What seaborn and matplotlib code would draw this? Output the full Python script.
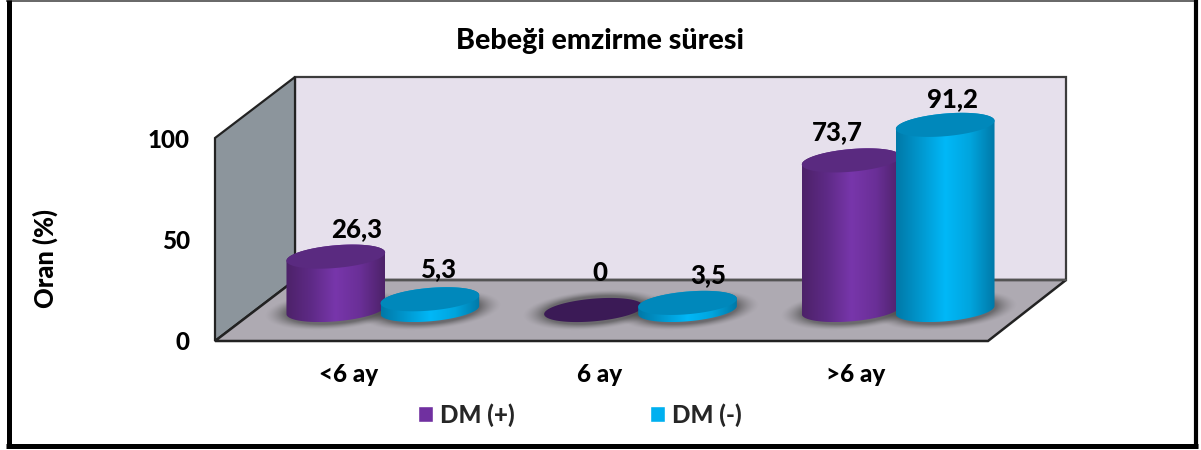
"""Bebegi emzirme suresi: 3D look cylinder chart on top of a seaborn barplot."""

import numpy as np
import pandas as pd
import matplotlib
matplotlib.use("Agg")
import matplotlib.pyplot as plt
from matplotlib.patches import Polygon
from matplotlib.colors import LinearSegmentedColormap
from matplotlib.transforms import Affine2D
import seaborn as sns

categories = ["<6 ay", "6 ay", ">6 ay"]
groups = ["DM (+)", "DM (-)"]
dm_pos = [26.3, 0, 73.7]
dm_neg = [5.3, 3.5, 91.2]
y_ticks = [0, 50, 100]
title = "Bebeği emzirme süresi"
y_label = "Oran (%)"

W, H = 1201, 450
FONT = "Lato"
WEIGHT = 900
DEPTH_X, DEPTH_Y = 39, 31  # cylinders stand mid floor
TILT = np.deg2rad(5)

sns.set_theme(style="white")
plt.rcParams["font.family"] = [FONT, "DejaVu Sans"]
plt.rcParams["font.weight"] = WEIGHT

fig = plt.figure(figsize=(W / 100, H / 100), dpi=100, facecolor="white")

# overlay in image pixels, for the walls and the shaded cylinders
ov = fig.add_axes([0, 0, 1, 1], zorder=1)
ov.set_xlim(0, W)
ov.set_ylim(H, 0)
ov.axis("off")
ov.set_autoscale_on(False)

ax = fig.add_axes(
    [215 / W, (H - 341) / H, (988 - 215) / W, (341 - 138) / H], zorder=2
)
ax.patch.set_alpha(0)

df = pd.DataFrame({
    "cat": categories * 2,
    "group": [groups[0]] * 3 + [groups[1]] * 3,
    "value": dm_pos + dm_neg,
})
sns.barplot(
    data=df, x="cat", y="value", hue="group", hue_order=groups, order=categories,
    palette=["#7030a0", "#00b0f0"], width=0.73, ax=ax, saturation=1,
)
ax.set_xlim(-0.5, 2.5)
ax.set_ylim(0, 100)
ax.set_yticks(y_ticks)
ax.set_xlabel("")
ax.set_ylabel(y_label, fontsize=18.4, fontweight=WEIGHT, color="black")
ax.yaxis.set_label_coords((58 - 215) / 773, (341 - 258) / 203)
ax.tick_params(axis="y", length=0, pad=18, labelsize=17.5, labelcolor="black")
ax.tick_params(axis="x", length=0, pad=15.5, labelsize=17.5, labelcolor="black")
for lab, dx in zip(ax.get_xticklabels(), [5, -2, -4]):
    lab.set_transform(lab.get_transform() + Affine2D().translate(dx, 0))
sns.despine(ax=ax, left=True, bottom=True)

sns.move_legend(
    ax, "center", bbox_to_anchor=(580 / W, 1 - 415 / H), bbox_transform=fig.transFigure,
    ncol=2, title=None, frameon=False, fontsize=17.4, handlelength=0.62,
    handleheight=0.62, handletextpad=0.3, columnspacing=5.6,
)

# walls and floor
ov.add_patch(Polygon([(295, 77), (1066, 77), (1066, 280), (295, 280)],
                     fc="#e6e0ec", ec="#3c3c3c", lw=1.6))
ov.add_patch(Polygon([(215, 138), (295, 77), (295, 280), (215, 341)],
                     fc="#8c959c", ec="#222222", lw=1.6))
ov.add_patch(Polygon([(215, 341), (295, 280), (1066, 280), (988, 341)],
                     fc="#aeaab2", ec="#222222", lw=1.8))
ov.plot([295, 1066], [280, 280], color="#555555", lw=1.4)

# outer frame, heavier on three sides
ov.plot([6, 1198], [1, 1], color="#666666", lw=1.4, solid_capstyle="butt")
ov.plot([8.5, 8.5], [0, 448], color="black", lw=3.6, solid_capstyle="butt")
ov.plot([1196, 1196], [0, 448], color="black", lw=3.0, solid_capstyle="butt")
ov.plot([6, 1198], [445.5, 445.5], color="black", lw=3.6, solid_capstyle="butt")


def ellipse_pts(cx, cy, a, b=11.3, n=181):
    t = np.linspace(0, 2 * np.pi, n)
    xs = cx + a * np.cos(t) * np.cos(TILT) - b * np.sin(t) * np.sin(TILT)
    ys = cy - (a * np.cos(t) * np.sin(TILT) + b * np.sin(t) * np.cos(TILT))
    return xs, ys


def add_shadow(cx, cy, a):
    # soft dark halo on the floor round the foot of the cylinder
    x0, x1, y0, y1 = cx - a - 28, cx + a + 28, cy - 26, cy + 22
    gx, gy = np.meshgrid(np.linspace(x0, x1, 160), np.linspace(y0, y1, 60))
    r = np.hypot((gx - cx) / (a + 22), (gy - cy + 0.08 * (gx - cx)) / 20)
    rgba = np.zeros(gx.shape + (4,))
    rgba[..., :3] = 0.25
    rgba[..., 3] = 0.6 * np.clip((1 - r) / 0.3, 0, 1) ** 1.5
    ov.imshow(rgba, extent=(x0, x1, y1, y0), aspect="auto", zorder=3,
              interpolation="bilinear")


shades = {
    groups[0]: (["#4d2269", "#5e2a86", "#7836ab", "#6a2f97", "#4d2269"], "#5a2a80"),
    groups[1]: (["#0079a8", "#0098cf", "#00b8f8", "#00a5de", "#0079a8"], "#0088bb"),
}
ZERO_COLOR = "#3b1a56"

# label offsets from the top of each cylinder, in pixels
nudge_x = [21, 6, -14, 9, 21, 7]
nudge_y = [-28, -37, -28, -30, -28, -26]

bars = sorted(ax.containers[0].patches, key=lambda p: p.get_x()) + \
    sorted(ax.containers[1].patches, key=lambda p: p.get_x())
for i, bar in enumerate(bars):
    name = groups[i // 3]
    val = bar.get_height()
    bar.set_visible(False)
    (x0, yb), (x1, yt) = ax.transData.transform(
        [(bar.get_x(), 0), (bar.get_x() + bar.get_width(), val)]
    )
    # display to image pixels, moved back on the floor
    cx = (x0 + x1) / 2 + DEPTH_X
    base = H - yb - DEPTH_Y
    top = H - yt - DEPTH_Y
    a = (x1 - x0) / 2 + 2.5
    add_shadow(cx, base, a)

    z = 4 + (i % 3) * 2 + i // 3
    grad, top_col = shades[name]
    if val > 0:
        bx, by = ellipse_pts(cx, base, a)
        tx, ty = ellipse_pts(cx, top, a)
        hull_x = np.r_[bx[:1], tx[:91], bx[90:]]
        hull_y = np.r_[by[:1], ty[:91], by[90:]]
        body = Polygon(np.c_[hull_x, hull_y], fc="none", ec="none", zorder=z)
        ov.add_patch(body)
        cmap = LinearSegmentedColormap.from_list("g", grad)
        im = ov.imshow(
            np.linspace(0, 1, 200)[None, :], cmap=cmap, aspect="auto", zorder=z,
            extent=(hull_x.min(), hull_x.max(), hull_y.max(), hull_y.min()),
        )
        im.set_clip_path(body)
    else:
        top_col = ZERO_COLOR
    tx, ty = ellipse_pts(cx, top, a)
    ov.fill(tx, ty, color=top_col, lw=0, zorder=z + 0.5)

    txt = f"{val:g}".replace(".", ",")
    ov.text(cx + nudge_x[i], top + nudge_y[i], txt, ha="center", va="center",
            fontsize=18.5, fontweight=WEIGHT, color="black", zorder=20)

ov.set_xlim(0, W)
ov.set_ylim(H, 0)
ov.text(600, 41, title, ha="center", va="center", fontsize=20.6,
        fontweight=WEIGHT, color="black", zorder=20)

fig.savefig("out.png", dpi=100)
